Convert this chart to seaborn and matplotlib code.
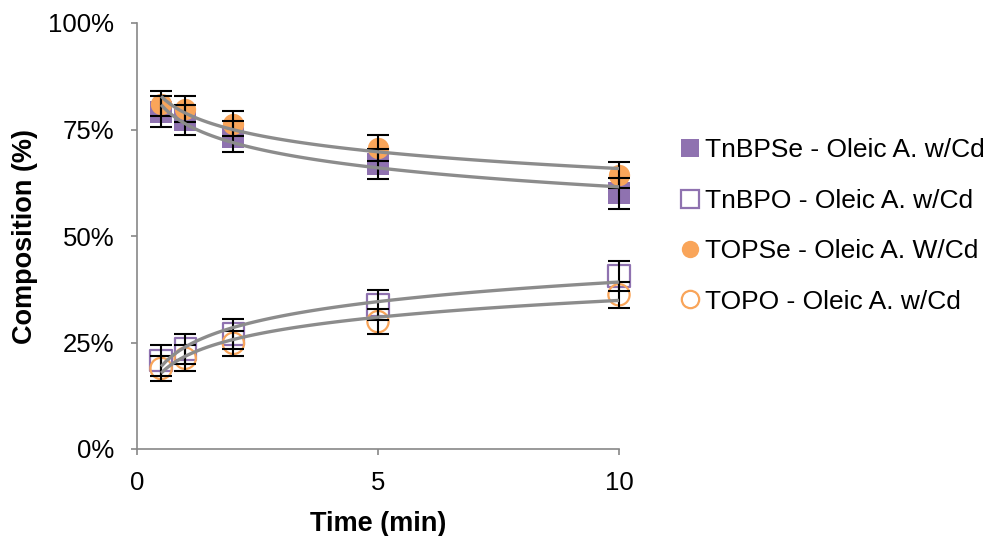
import matplotlib
matplotlib.use("Agg")
import matplotlib.pyplot as plt
from matplotlib.lines import Line2D
from matplotlib.ticker import FuncFormatter
import numpy as np
import pandas as pd
import seaborn as sns

# ---- data ----
time_min = [0.5, 1, 2, 5, 10]
tnbpse = [79.2, 77.2, 73.3, 66.9, 60.0]
tnbpo = [20.7, 23.5, 27.0, 33.8, 40.6]
topse = [81.1, 79.8, 76.4, 70.6, 64.3]
topo = [18.9, 21.3, 24.8, 29.9, 36.2]
err_tnbp = [3.6, 3.6, 3.6, 3.6, 3.6]
err_top = [3.0, 3.0, 3.0, 3.0, 3.0]

labels = ["TnBPSe - Oleic A. w/Cd", "TnBPO - Oleic A. w/Cd",
          "TOPSe - Oleic A. W/Cd", "TOPO - Oleic A. w/Cd"]
x_ticks = [0, 5, 10]
y_ticks = [0, 25, 50, 75, 100]

PURPLE = "#8F72B0"
ORANGE = "#F9A55A"
GRAY = "#8C8C8C"
AXGRAY = "#888888"

sns.set_theme(style="white")
plt.rcParams["font.family"] = ["Liberation Sans", "DejaVu Sans"]
plt.rcParams["text.color"] = "black"
plt.rcParams["axes.labelcolor"] = "black"
TICK_FS = 18.5
LEG_FS = 19
LAB_FS = 19.5

fig = plt.figure(figsize=(9.88, 5.36), dpi=100)
ax = fig.add_axes([137 / 988, 87 / 536, (619 - 137) / 988, (449 - 23) / 536])

series = [
    (labels[0], tnbpse, err_tnbp, "s", PURPLE, True),
    (labels[1], tnbpo, err_tnbp, "s", PURPLE, False),
    (labels[2], topse, err_top, "o", ORANGE, True),
    (labels[3], topo, err_top, "o", ORANGE, False),
]

for name, vals, err, mk, col, filled in series:
    df = pd.DataFrame({"t": time_min, "v": vals})
    if filled:
        sns.scatterplot(data=df, x="t", y="v", ax=ax, marker=mk, s=235,
                        color=col, edgecolor=col, linewidth=0, zorder=3,
                        clip_on=False)
    else:
        sns.scatterplot(data=df, x="t", y="v", ax=ax, marker=mk, s=235,
                        facecolor="none", edgecolor=col, linewidth=1.6, zorder=3,
                        clip_on=False)

for name, vals, err, mk, col, filled in series:
    ax.errorbar(time_min, vals, yerr=err, fmt="none", ecolor="black",
                elinewidth=1.5, capsize=8, capthick=1.5, zorder=4,
                clip_on=False)

for name, vals, err, mk, col, filled in series:
    df = pd.DataFrame({"t": time_min, "v": vals})
    sns.regplot(data=df, x="t", y="v", ax=ax, logx=True, scatter=False,
                ci=None, truncate=True,
                line_kws=dict(color=GRAY, lw=2.4, zorder=5,
                              solid_capstyle="butt", clip_on=False))

ax.set_xlim(0, 10)
ax.set_ylim(0, 100)
ax.set_xticks(x_ticks)
ax.set_yticks(y_ticks)
ax.yaxis.set_major_formatter(FuncFormatter(lambda v, p: f"{v:.0f}%"))
ax.tick_params(axis="both", which="major", direction="out", length=4.5,
               width=1.2, color=AXGRAY, labelsize=TICK_FS, labelcolor="black",
               left=True, bottom=True)
ax.tick_params(axis="x", pad=11)
ax.tick_params(axis="y", pad=12)
for side in ["top", "right"]:
    ax.spines[side].set_visible(False)
for side in ["left", "bottom"]:
    ax.spines[side].set_color(AXGRAY)
    ax.spines[side].set_linewidth(1.2)
ax.grid(False)
ax.set_xlabel("Time (min)", fontsize=LAB_FS, fontweight="bold")
ax.set_ylabel("Composition (%)", fontsize=LAB_FS, fontweight="bold")
ax.xaxis.set_label_coords(0.5, -(511 - 449) / 426)
ax.yaxis.set_label_coords((38 - 137) / 482, 0.5)

handles = [
    Line2D([], [], marker="s", ls="none", markersize=12.5, color=PURPLE, markeredgewidth=0),
    Line2D([], [], marker="s", ls="none", markersize=12.5, markerfacecolor="none",
           markeredgecolor=PURPLE, markeredgewidth=1.6),
    Line2D([], [], marker="o", ls="none", markersize=12.5, color=ORANGE, markeredgewidth=0),
    Line2D([], [], marker="o", ls="none", markersize=12.5, markerfacecolor="none",
           markeredgecolor=ORANGE, markeredgewidth=1.6),
]
fig.legend(handles, labels, loc="center left", bbox_to_anchor=(680 / 988, 1 - 226 / 536),
           frameon=False, fontsize=LEG_FS, handlelength=0.75, handletextpad=0.2,
           labelspacing=1.0, borderaxespad=0, borderpad=0)

fig.savefig("out.png", dpi=100)
